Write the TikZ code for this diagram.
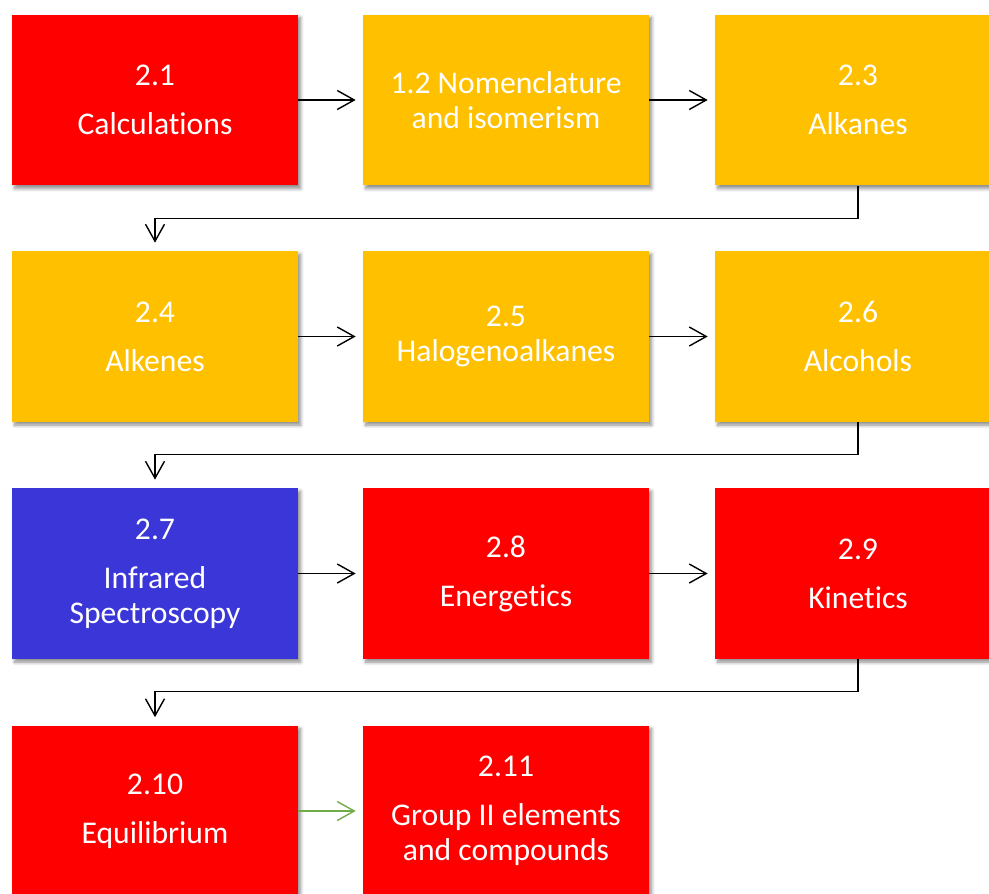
\documentclass[tikz,border=0pt]{standalone}
\usepackage{fontspec}
\setmainfont{Carlito}[Ligatures=NoCommon]
\usetikzlibrary{arrows.meta}
\usetikzlibrary{shadows.blur}

\definecolor{topicred}{HTML}{FF0000}
\definecolor{topicgold}{HTML}{FFC000}
\definecolor{topicblue}{HTML}{3A36D8}
\definecolor{linkgreen}{HTML}{70AD47}

\begin{document}
\begin{tikzpicture}[x=0.02cm,y=-0.02cm,
	topic/.style={minimum width=5.72cm,minimum height=3.42cm,inner sep=0pt,align=center,
		text=white,font=\fontsize{18}{19.9}\selectfont,
		blur shadow={shadow xshift=1.5pt,shadow yshift=-1.8pt,shadow blur steps=6,shadow opacity=45}},
	link/.style={draw,line width=0.6pt,shorten >=0.14cm,
		arrows={-Straight Barb[length=3.4mm,width=3.8mm,line width=0.8pt]}}]
			
			% page
			\useasboundingbox (0,0) rectangle (989,893);
			\clip (0,0) rectangle (989,893);
			
			% first row
			\node[topic,fill=topicred] (t21) at (155,100) {2.1\\[0.28cm]Calculations};
			\node[topic,fill=topicgold] (t12) at (506,100) {1.2 Nomenclature\\and isomerism};
			\node[topic,fill=topicgold] (t23) at (858,100) {2.3\\[0.28cm]Alkanes};
			
			% second row
			\node[topic,fill=topicgold] (t24) at (155,336.5) {2.4\\[0.28cm]Alkenes};
			\node[topic,fill=topicgold] (t25) at (506,336.5) {2.5\\Halogenoalkanes};
			\node[topic,fill=topicgold] (t26) at (858,336.5) {2.6\\[0.28cm]Alcohols};
			
			% third row
			\node[topic,fill=topicblue] (t27) at (155,573.5) {2.7\\[0.28cm]Infrared\\Spectroscopy};
			\node[topic,fill=topicred] (t28) at (506,573.5) {2.8\\[0.28cm]Energetics};
			\node[topic,fill=topicred] (t29) at (858,573.5) {2.9\\[0.28cm]Kinetics};
			
			% fourth row
			\node[topic,fill=topicred] (t210) at (155,811) {2.10\\[0.28cm]Equilibrium};
			\node[topic,fill=topicred] (t211) at (506,811) {2.11\\[0.28cm]Group II elements\\and compounds};
			
			%arrows along the rows
			\draw[link] (t21.east) -- (t12.west);
			\draw[link] (t12.east) -- (t23.west);
			\draw[link] (t24.east) -- (t25.west);
			\draw[link] (t25.east) -- (t26.west);
			\draw[link] (t27.east) -- (t28.west);
			\draw[link] (t28.east) -- (t29.west);
			\draw[link,linkgreen] (t210.east) -- (t211.west);
			
			%arrows down to the next row
			\draw[link,shorten >=0.16cm] (t23.south) -- ++(0,32.5) -| (t24.north);
			\draw[link,shorten >=0.16cm] (t26.south) -- ++(0,32.5) -| (t27.north);
			\draw[link,shorten >=0.16cm] (t29.south) -- ++(0,32.5) -| (t210.north);
			
\end{tikzpicture}
\end{document}
